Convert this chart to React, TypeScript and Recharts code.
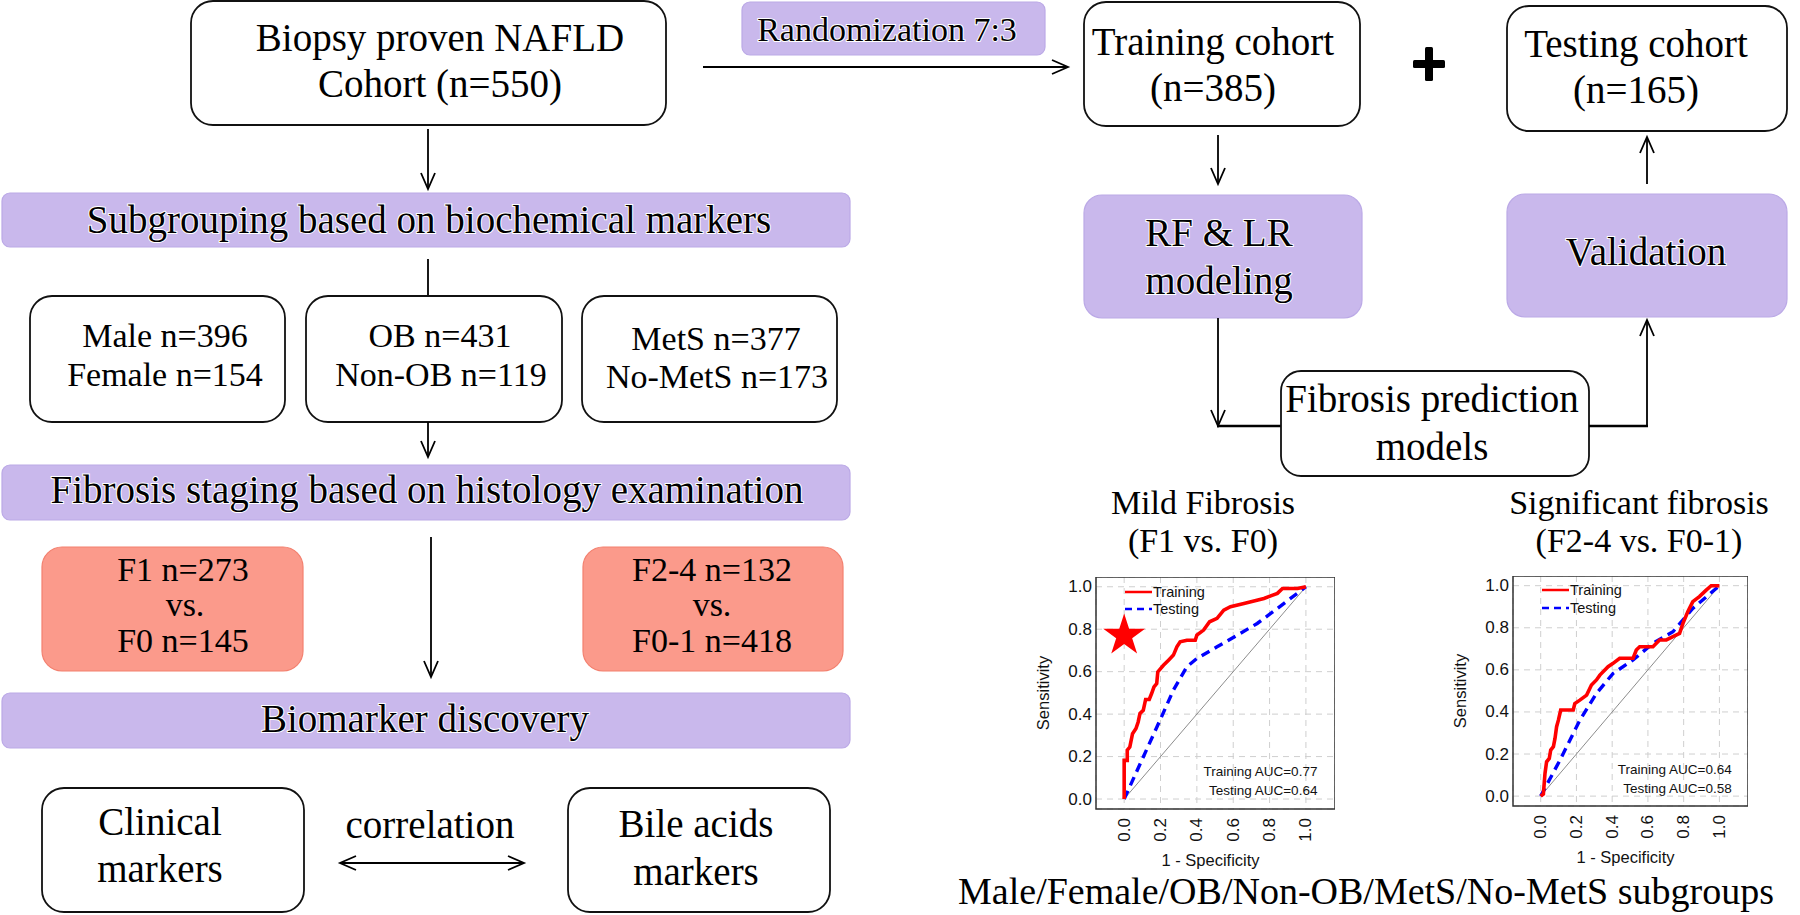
import React from 'react';
import {
  LineChart,
  Line,
  XAxis,
  YAxis,
  CartesianGrid,
  ReferenceArea,
  ReferenceDot,
  Legend,
} from 'recharts';

// ---------- data ----------
const axisTicks = [0, 0.2, 0.4, 0.6, 0.8, 1.0];
const xDomain = [-0.155, 1.16];
const yDomain = [-0.047, 1.046];

const mildTrainFpr = [0, 0, 0.017, 0.017, 0.031, 0.046, 0.065, 0.077, 0.087, 0.105, 0.118, 0.138, 0.151, 0.164, 0.179, 0.185, 0.216, 0.244, 0.271, 0.29, 0.308, 0.345, 0.391, 0.4, 0.437, 0.47, 0.511, 0.548, 0.585, 0.659, 0.769, 0.843, 0.871, 0.954, 1];
const mildTrainTpr = [0, 0.182, 0.182, 0.23, 0.245, 0.308, 0.332, 0.363, 0.403, 0.418, 0.469, 0.469, 0.497, 0.528, 0.544, 0.599, 0.63, 0.654, 0.678, 0.717, 0.741, 0.748, 0.748, 0.772, 0.796, 0.835, 0.851, 0.89, 0.906, 0.921, 0.945, 0.969, 0.992, 0.992, 1];
const mildTestFpr = [0, 0.105, 0.197, 0.271, 0.345, 0.4, 0.511, 0.622, 0.732, 0.843, 1];
const mildTestTpr = [0, 0.198, 0.371, 0.513, 0.623, 0.662, 0.717, 0.772, 0.827, 0.898, 1];

const sigTrainFpr = [0, 0.015, 0.024, 0.033, 0.048, 0.056, 0.071, 0.08, 0.089, 0.099, 0.112, 0.182, 0.191, 0.219, 0.257, 0.284, 0.312, 0.331, 0.377, 0.405, 0.442, 0.517, 0.535, 0.554, 0.628, 0.665, 0.703, 0.74, 0.777, 0.796, 0.823, 0.851, 0.888, 0.926, 0.954, 1];
const sigTrainTpr = [0, 0.01, 0.108, 0.163, 0.179, 0.219, 0.235, 0.274, 0.33, 0.361, 0.409, 0.409, 0.44, 0.456, 0.48, 0.528, 0.552, 0.575, 0.615, 0.631, 0.655, 0.655, 0.694, 0.71, 0.71, 0.742, 0.742, 0.758, 0.773, 0.821, 0.876, 0.924, 0.948, 0.979, 1, 1];
const sigTestFpr = [0, 0.108, 0.219, 0.312, 0.405, 0.517, 0.628, 0.74, 0.851, 1];
const sigTestTpr = [0, 0.171, 0.361, 0.488, 0.583, 0.647, 0.726, 0.781, 0.892, 1];

const diagFpr = [0, 1];
const diagTpr = [0, 1];

const zip = (xs: number[], ys: number[]) => xs.map((x, i) => ({ x, y: ys[i] }));

const SERIF = "'Liberation Serif', 'Times New Roman', serif";
const SANS = "'Liberation Sans', Arial, sans-serif";
const PURPLE = '#c9b8ec';
const PURPLE_STROKE = '#bba9e6';
const SALMON = '#fb9a8b';
const SALMON_STROKE = '#f3806f';

// ---------- flowchart primitives ----------
type BoxProps = { x: number; y: number; w: number; h: number; r?: number; fill?: string; stroke?: string; sw?: number };
const Box = ({ x, y, w, h, r = 22, fill = '#fff', stroke = '#111', sw = 1.8 }: BoxProps) => (
  <rect x={x} y={y} width={w} height={h} rx={r} ry={r} fill={fill} stroke={stroke} strokeWidth={sw} />
);

type TProps = { x: number; y: number; s?: number; children: string; halo?: boolean };
const T = ({ x, y, s = 39, children, halo }: TProps) => (
  <text
    x={x}
    y={y}
    fontSize={s}
    fontFamily={SERIF}
    textAnchor="middle"
    fill="#000"
    stroke={halo ? '#ffffff' : 'none'}
    strokeWidth={halo ? 2 : 0}
    style={{ paintOrder: 'stroke' } as any}
  >
    {children}
  </text>
);

const Head = ({ x, y, dx, dy }: { x: number; y: number; dx: number; dy: number }) => {
  const L = 16;
  const W = 7;
  const nx = -dy;
  const ny = dx;
  const p1 = `${x - dx * L + nx * W},${y - dy * L + ny * W}`;
  const p2 = `${x},${y}`;
  const p3 = `${x - dx * L - nx * W},${y - dy * L - ny * W}`;
  return <polyline points={`${p1} ${p2} ${p3}`} fill="none" stroke="#000" strokeWidth={1.8} />;
};

const Seg = ({ x1, y1, x2, y2, w = 1.8 }: { x1: number; y1: number; x2: number; y2: number; w?: number }) => (
  <line x1={x1} y1={y1} x2={x2} y2={y2} stroke="#000" strokeWidth={w} />
);

// ---------- ROC chart ----------
const XTick = (props: any) => {
  const { x, y, payload } = props;
  return (
    <text
      transform={`translate(${x},${y}) rotate(-90)`}
      textAnchor="end"
      dominantBaseline="central"
      fontSize={17}
      fontFamily={SANS}
      fill="#111"
    >
      {Number(payload.value).toFixed(1)}
    </text>
  );
};

const YTick = (props: any) => {
  const { x, y, payload } = props;
  return (
    <text x={x} y={y} textAnchor="end" dominantBaseline="central" fontSize={17} fontFamily={SANS} fill="#111">
      {Number(payload.value).toFixed(1)}
    </text>
  );
};

const YTitle = (props: any) => {
  const vb = props.viewBox || {};
  const cx = vb.x + 17;
  const cy = vb.y + vb.height / 2;
  return (
    <text
      transform={`translate(${cx},${cy}) rotate(-90)`}
      textAnchor="middle"
      dominantBaseline="central"
      fontSize={16.5}
      fontFamily={SANS}
      fill="#111"
    >
      Sensitivity
    </text>
  );
};

const XTitle = (props: any) => {
  const vb = props.viewBox || {};
  return (
    <text x={vb.x + vb.width / 2 - 5} y={vb.y + 57} textAnchor="middle" fontSize={16.5} fontFamily={SANS} fill="#111">
      1 - Specificity
    </text>
  );
};

const StarShape = (props: any) => {
  const { cx, cy } = props;
  const R = 22;
  const r = R * 0.382;
  const pts: string[] = [];
  for (let i = 0; i < 10; i++) {
    const rad = i % 2 === 0 ? R : r;
    const a = -Math.PI / 2 + (i * Math.PI) / 5;
    pts.push(`${cx + rad * Math.cos(a)},${cy + rad * Math.sin(a)}`);
  }
  return <polygon points={pts.join(' ')} fill="#ff0000" stroke="none" />;
};

const LegendBox = ({ dy2 }: { dy2: number }) => (
  <svg width={120} height={40} style={{ display: 'block', overflow: 'visible' }}>
    <line x1={5} y1={8} x2={32} y2={8} stroke="#ff0000" strokeWidth={2.5} />
    <text x={33} y={8} dominantBaseline="central" fontSize={14.5} fontFamily={SANS} fill="#111">
      Training
    </text>
    <line x1={5} y1={8 + dy2} x2={32} y2={8 + dy2} stroke="#0000ff" strokeWidth={2.5} strokeDasharray="7 5" />
    <text x={33} y={8 + dy2} dominantBaseline="central" fontSize={14.5} fontFamily={SANS} fill="#111">
      Testing
    </text>
  </svg>
);

type RocProps = {
  left: number;
  top: number;
  plotW: number;
  plotH: number;
  train: { x: number; y: number }[];
  test: { x: number; y: number }[];
  aucTrain: string;
  aucTest: string;
  aucX: number;
  aucY1: number;
  aucY2: number;
  star?: boolean;
  legLeft: number;
  legTop: number;
  legDy: number;
};

const YW = 70;
const XH = 70;

const Roc = ({ left, top, plotW, plotH, train, test, aucTrain, aucTest, aucX, aucY1, aucY2, star, legLeft, legTop, legDy }: RocProps) => (
  <div style={{ position: 'absolute', left, top }}>
    <LineChart width={plotW + YW} height={plotH + XH} margin={{ top: 0, right: 0, bottom: 0, left: 0 }}>
      <CartesianGrid stroke="#cfcfcf" strokeDasharray="6 5" strokeWidth={1} />
      <XAxis
        type="number"
        dataKey="x"
        domain={xDomain}
        ticks={axisTicks}
        interval={0}
        allowDataOverflow
        height={XH}
        tickSize={0}
        tickMargin={9}
        tickLine={false}
        axisLine={false}
        tick={<XTick />}
        label={<XTitle />}
      />
      <YAxis
        type="number"
        dataKey="y"
        domain={yDomain}
        ticks={axisTicks}
        interval={0}
        allowDataOverflow
        width={YW}
        tickSize={0}
        tickMargin={4}
        tickLine={false}
        axisLine={false}
        tick={<YTick />}
        label={<YTitle />}
      />
      <ReferenceArea
        x1={xDomain[0]}
        x2={xDomain[1]}
        y1={yDomain[0]}
        y2={yDomain[1]}
        fill="none"
        fillOpacity={0}
        stroke="#333"
        strokeWidth={1.5}
        ifOverflow="visible"
      />
      <Line
        data={zip(diagFpr, diagTpr)}
        dataKey="y"
        type="linear"
        stroke="#8c8c8c"
        strokeWidth={1}
        dot={false}
        activeDot={false}
        isAnimationActive={false}
        legendType="none"
      />
      <Line
        data={test}
        dataKey="y"
        type="linear"
        stroke="#0000ff"
        strokeWidth={3.4}
        strokeDasharray="9 6"
        dot={false}
        activeDot={false}
        isAnimationActive={false}
      />
      <Line
        data={train}
        dataKey="y"
        type="linear"
        stroke="#ff0000"
        strokeWidth={3.6}
        strokeLinejoin="miter"
        dot={false}
        activeDot={false}
        isAnimationActive={false}
      />
      {star ? <ReferenceDot x={0} y={0.77} r={22} shape={<StarShape />} ifOverflow="visible" /> : null}
      <ReferenceDot
        x={aucX}
        y={aucY1}
        r={0.5}
        fill="none"
        stroke="none"
        ifOverflow="visible"
        label={{ value: aucTrain, position: 'left', offset: 0, fontSize: 13.5, fill: '#111', fontFamily: SANS }}
      />
      <ReferenceDot
        x={aucX}
        y={aucY2}
        r={0.5}
        fill="none"
        stroke="none"
        ifOverflow="visible"
        label={{ value: aucTest, position: 'left', offset: 0, fontSize: 13.5, fill: '#111', fontFamily: SANS }}
      />
      <Legend
        layout="vertical"
        align="center"
        verticalAlign="middle"
        content={() => <LegendBox dy2={legDy} />}
        wrapperStyle={{ position: 'absolute', left: legLeft, top: legTop, width: 120, height: 40 }}
      />
    </LineChart>
  </div>
);

// ---------- flowchart ----------
const Flow = () => (
  <svg width={1800} height={915} style={{ position: 'absolute', left: 0, top: 0 }}>
    {/* left column */}
    <Box x={191} y={1} w={475} h={124} />
    <T x={440} y={51}>Biopsy proven NAFLD</T>
    <T x={440} y={97}>Cohort (n=550)</T>

    <Seg x1={428} y1={129} x2={428} y2={189} />
    <Head x={428} y={189} dx={0} dy={1} />

    <Box x={2} y={193} w={848} h={54} r={8} fill={PURPLE} stroke={PURPLE_STROKE} sw={1.2} />
    <T x={429} y={233} halo>Subgrouping based on biochemical markers</T>

    <Seg x1={428} y1={259} x2={428} y2={296} />

    <Box x={30} y={296} w={255} h={126} />
    <T x={165} y={347} s={34}>Male n=396</T>
    <T x={165} y={386} s={34}>Female n=154</T>
    <Box x={306} y={296} w={256} h={126} />
    <T x={440} y={347} s={34}>OB n=431</T>
    <T x={441} y={386} s={34}>Non-OB n=119</T>
    <Box x={582} y={296} w={255} h={126} />
    <T x={716} y={350} s={34}>MetS n=377</T>
    <T x={717} y={388} s={34}>No-MetS n=173</T>

    <Seg x1={428} y1={422} x2={428} y2={457} />
    <Head x={428} y={457} dx={0} dy={1} />

    <Box x={2} y={465} w={848} h={55} r={8} fill={PURPLE} stroke={PURPLE_STROKE} sw={1.2} />
    <T x={427} y={503} halo>Fibrosis staging based on histology examination</T>

    <Box x={42} y={547} w={261} h={124} r={20} fill={SALMON} stroke={SALMON_STROKE} sw={1.2} />
    <T x={183} y={581} s={34}>F1 n=273</T>
    <T x={185} y={616} s={34}>vs.</T>
    <T x={183} y={652} s={34}>F0 n=145</T>
    <Box x={583} y={547} w={260} h={124} r={20} fill={SALMON} stroke={SALMON_STROKE} sw={1.2} />
    <T x={712} y={581} s={34}>F2-4 n=132</T>
    <T x={712} y={616} s={34}>vs.</T>
    <T x={712} y={652} s={34}>F0-1 n=418</T>

    <Seg x1={431} y1={537} x2={431} y2={677} />
    <Head x={431} y={677} dx={0} dy={1} />

    <Box x={2} y={693} w={848} h={55} r={8} fill={PURPLE} stroke={PURPLE_STROKE} sw={1.2} />
    <T x={425} y={732} halo>Biomarker discovery</T>

    <Box x={42} y={788} w={262} h={124} />
    <T x={160} y={835}>Clinical</T>
    <T x={160} y={882}>markers</T>
    <Box x={568} y={788} w={262} h={124} />
    <T x={696} y={837}>Bile acids</T>
    <T x={696} y={885}>markers</T>
    <T x={430} y={838}>correlation</T>
    <Seg x1={340} y1={863} x2={524} y2={863} />
    <Head x={340} y={863} dx={-1} dy={0} />
    <Head x={524} y={863} dx={1} dy={0} />

    {/* right column */}
    <Box x={742} y={2} w={303} h={53} r={8} fill={PURPLE} stroke={PURPLE_STROKE} sw={1.2} />
    <T x={887} y={41} s={34} halo>Randomization 7:3</T>
    <Seg x1={703} y1={67} x2={1068} y2={67} w={2.2} />
    <Head x={1068} y={67} dx={1} dy={0} />

    <Box x={1084} y={2} w={276} h={124} />
    <T x={1213} y={55}>Training cohort</T>
    <T x={1213} y={101}>(n=385)</T>

    <rect x={1413} y={60} width={32} height={8} fill="#000" rx={1.5} />
    <rect x={1425} y={47} width={8} height={34} fill="#000" rx={1.5} />

    <Box x={1507} y={6} w={280} h={125} />
    <T x={1636} y={57}>Testing cohort</T>
    <T x={1636} y={103}>(n=165)</T>

    <Seg x1={1218} y1={135} x2={1218} y2={184} />
    <Head x={1218} y={184} dx={0} dy={1} />

    <Box x={1084} y={195} w={278} h={123} r={18} fill={PURPLE} stroke={PURPLE_STROKE} sw={1.2} />
    <T x={1219} y={246} halo>RF &amp; LR</T>
    <T x={1219} y={294} halo>modeling</T>

    <Box x={1507} y={194} w={280} h={123} r={18} fill={PURPLE} stroke={PURPLE_STROKE} sw={1.2} />
    <T x={1646} y={265} halo>Validation</T>

    <Seg x1={1647} y1={184} x2={1647} y2={137} />
    <Head x={1647} y={137} dx={0} dy={-1} />

    <Seg x1={1218} y1={318} x2={1218} y2={426} />
    <Head x={1218} y={426} dx={0} dy={1} />
    <Seg x1={1217} y1={426} x2={1281} y2={426} w={2.4} />

    <Box x={1281} y={371} w={308} h={105} r={20} />
    <T x={1432} y={412}>Fibrosis prediction</T>
    <T x={1432} y={460}>models</T>

    <Seg x1={1589} y1={426} x2={1648} y2={426} w={2.4} />
    <Seg x1={1647} y1={427} x2={1647} y2={320} />
    <Head x={1647} y={320} dx={0} dy={-1} />

    <T x={1203} y={514} s={34}>Mild Fibrosis</T>
    <T x={1203} y={552} s={34}>(F1 vs. F0)</T>
    <T x={1639} y={514} s={34}>Significant fibrosis</T>
    <T x={1639} y={552} s={34}>(F2-4 vs. F0-1)</T>

    <T x={1366} y={904} s={38}>Male/Female/OB/Non-OB/MetS/No-MetS subgroups</T>
  </svg>
);

export default function App() {
  return (
    <div style={{ position: 'absolute', left: 0, top: 0, width: 1800, height: 915, background: '#fff', overflow: 'hidden' }}>
      <Flow />
      <Roc
        left={1096 - YW}
        top={577}
        plotW={239}
        plotH={232}
        train={zip(mildTrainFpr, mildTrainTpr)}
        test={zip(mildTestFpr, mildTestTpr)}
        aucTrain="Training AUC=0.77"
        aucTest="Testing AUC=0.64"
        aucX={1.066}
        aucY1={0.131}
        aucY2={0.041}
        star
        legLeft={94}
        legTop={7}
        legDy={17}
      />
      <Roc
        left={1513 - YW}
        top={576}
        plotW={235}
        plotH={230}
        train={zip(sigTrainFpr, sigTrainTpr)}
        test={zip(sigTestFpr, sigTestTpr)}
        aucTrain="Training AUC=0.64"
        aucTest="Testing AUC=0.58"
        aucX={1.072}
        aucY1={0.128}
        aucY2={0.038}
        legLeft={94}
        legTop={6}
        legDy={18}
      />
    </div>
  );
}
